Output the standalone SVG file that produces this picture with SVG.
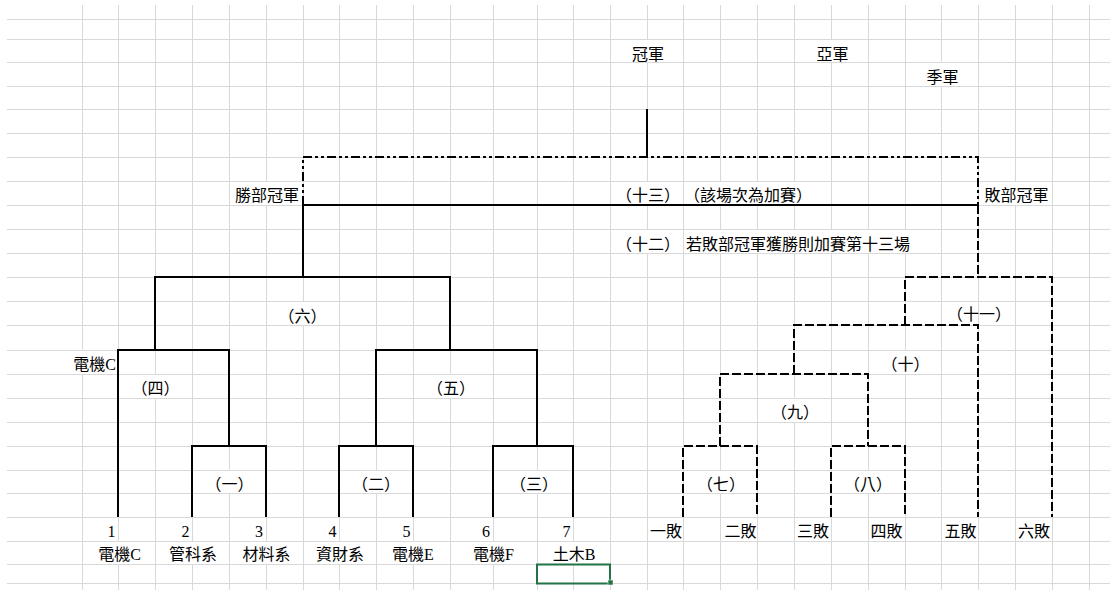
<svg xmlns="http://www.w3.org/2000/svg" width="1110" height="590" viewBox="0 0 1110 590">
<style>
.grid{stroke:#d9d9d9;stroke-width:1;fill:none}
.s{stroke:#000;stroke-width:2;fill:none}
.d{stroke:#000;stroke-width:2;fill:none;stroke-dasharray:9 3}
.dd{stroke:#000;stroke-width:2;fill:none;stroke-dasharray:9 3 3 3 3 3}
text{font-family:"Liberation Serif","Noto Sans CJK TC",serif;font-size:16px;fill:#000}
.c{font-family:"Noto Sans CJK TC","Liberation Sans",sans-serif}
.m{text-anchor:middle}
.e{text-anchor:end}
</style>
<rect width="1110" height="590" fill="#fff"/>
<g id="grid">
<path class="grid" d="M7,19.5H1110M7,39.5H1110M7,62.5H1110M7,86.5H1110M7,109.5H1110M7,133.5H1110M7,157.5H1110M7,181.5H1110M7,205.5H1110M7,229.5H1110M7,253.5H1110M7,277.5H1110M7,301.5H1110M7,325.5H1110M7,350.5H1110M7,374.5H1110M7,398.5H1110M7,422.5H1110M7,446.5H1110M7,470.5H1110M7,493.5H1110M7,517.5H1110M7,541.5H1110M7,564.5H1110M7,583.5H1110"/>
<path class="grid" d="M82.5,5V590M118.5,5V590M155.5,5V590M192.5,5V590M229.5,5V590M266.5,5V590M303.5,5V590M339.5,5V590M376.5,5V590M413.5,5V590M450.5,5V590M493.5,5V590M537.5,5V590M573.5,5V590M610.5,5V590M647.5,5V590M683.5,5V590M720.5,5V590M757.5,5V590M794.5,5V590M831.5,5V590M868.5,5V590M905.5,5V590M941.5,5V590M978.5,5V590M1015.5,5V590M1052.5,5V590M1089.5,5V590"/>
<g fill="#fff">
<rect x="647" y="40" width="1" height="22"/><rect x="831" y="40" width="1" height="22"/>
<rect x="941" y="63" width="1" height="23"/>
<rect x="266" y="182" width="1" height="23"/><rect x="647" y="182" width="1" height="23"/><rect x="720" y="182" width="1" height="23"/><rect x="757" y="182" width="1" height="23"/><rect x="794" y="182" width="1" height="23"/><rect x="1015" y="182" width="1" height="23"/>
<rect x="647" y="230" width="1" height="23"/><rect x="720" y="230" width="1" height="23"/><rect x="757" y="230" width="1" height="23"/><rect x="794" y="230" width="1" height="23"/><rect x="831" y="230" width="1" height="23"/><rect x="868" y="230" width="1" height="23"/><rect x="905" y="230" width="1" height="23"/>
<rect x="303" y="302" width="1" height="23"/>
<rect x="82" y="351" width="1" height="23"/><rect x="905" y="351" width="1" height="23"/>
<rect x="155" y="375" width="1" height="23"/><rect x="450" y="375" width="1" height="23"/>
<rect x="794" y="399" width="1" height="23"/>
<rect x="229" y="471" width="1" height="22"/><rect x="376" y="471" width="1" height="22"/><rect x="537" y="471" width="1" height="22"/><rect x="720" y="471" width="1" height="22"/><rect x="868" y="471" width="1" height="22"/>
<rect x="118" y="542" width="1" height="22"/><rect x="192" y="542" width="1" height="22"/><rect x="266" y="542" width="1" height="22"/><rect x="339" y="542" width="1" height="22"/><rect x="413" y="542" width="1" height="22"/><rect x="493" y="542" width="1" height="22"/><rect x="573" y="542" width="1" height="22"/>
</g>
</g>
<g id="connectors">
<path class="s" d="M647,109V157"/>
<path class="dd" d="M303,205V157H978V205"/>
<path class="s" d="M303,277V205H978"/>
<path class="s" d="M155,350V277H450V350"/>
<path class="s" d="M118,517V350H229V446"/>
<path class="s" d="M192,517V446H266V517"/>
<path class="s" d="M376,446V350H537V446"/>
<path class="s" d="M339,517V446H413V517"/>
<path class="s" d="M493,517V446H573V517"/>
<path class="d" d="M978,205V277"/>
<path class="d" d="M905,325V277H1052V517"/>
<path class="d" d="M794,374V325H978V517"/>
<path class="d" d="M720,446V374H868V446"/>
<path class="d" d="M683,517V446H757V517"/>
<path class="d" d="M831,517V446H905V517"/>
</g>
<g id="titles">
<text class="c m" x="648" y="60">冠軍</text>
<text class="c m" x="832.5" y="60">亞軍</text>
<text class="c m" x="942.5" y="82.5">季軍</text>
</g>
<g id="final">
<text class="c e" x="299" y="201">勝部冠軍</text>
<text class="c" x="984.5" y="201">敗部冠軍</text>
<text class="c m" x="648" y="201">（十三）</text>
<text class="c" x="684" y="201">（該場次為加賽）</text>
<text class="c m" x="648" y="250">（十二）</text>
<text class="c" x="686" y="250">若敗部冠軍獲勝則加賽第十三場</text>
</g>
<g id="winners-labels">
<text class="c m" x="302.5" y="322">（六）</text>
<text class="e" x="116" y="370">電機C</text>
<text class="c m" x="155.5" y="394">（四）</text>
<text class="c m" x="451" y="394">（五）</text>
<text class="c m" x="229.5" y="490">（一）</text>
<text class="c m" x="376" y="490">（二）</text>
<text class="c m" x="534" y="490">（三）</text>
</g>
<g id="losers-labels">
<text class="c m" x="979" y="320">（十一）</text>
<text class="c m" x="905.5" y="370">（十）</text>
<text class="c m" x="795" y="418">（九）</text>
<text class="c m" x="721" y="490">（七）</text>
<text class="c m" x="868" y="490">（八）</text>
</g>
<g id="seeds">
<text class="e" x="115.5" y="536.5">1</text>
<text class="e" x="189.5" y="536.5">2</text>
<text class="e" x="263" y="536.5">3</text>
<text class="e" x="336.5" y="536.5">4</text>
<text class="e" x="410.5" y="536.5">5</text>
<text class="e" x="490" y="536.5">6</text>
<text class="e" x="570.5" y="536.5">7</text>
</g>
<g id="losers-seeds">
<text class="c e" x="682" y="537">一敗</text>
<text class="c e" x="756.5" y="537">二敗</text>
<text class="c e" x="829" y="537">三敗</text>
<text class="c e" x="902.5" y="537">四敗</text>
<text class="c e" x="976.5" y="537">五敗</text>
<text class="c e" x="1050" y="537">六敗</text>
</g>
<g id="teams">
<text class="m" x="119.5" y="560">電機C</text>
<text class="m" x="193" y="560">管科系</text>
<text class="m" x="266.5" y="560">材料系</text>
<text class="m" x="340" y="560">資財系</text>
<text class="m" x="413" y="560">電機E</text>
<text class="m" x="493.5" y="560">電機F</text>
<text class="m" x="574" y="560">土木B</text>
</g>
<g id="selection">
<rect x="537" y="564.5" width="73" height="19" fill="none" stroke="#217346" stroke-width="2"/>
<rect x="608" y="580" width="5" height="5" fill="#217346" stroke="#fff" stroke-width="0.5"/>
</g>
</svg>
